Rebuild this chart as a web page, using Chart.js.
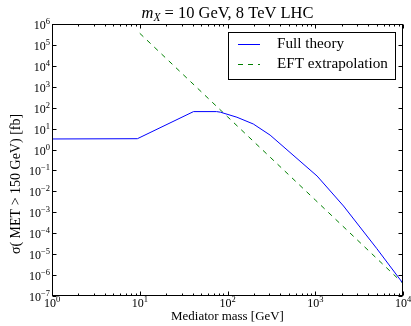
<!DOCTYPE html>
<html><head><meta charset="utf-8">
<script src="https://cdn.jsdelivr.net/npm/chart.js@4/dist/chart.umd.min.js"></script>
<style>html,body{margin:0;padding:0;background:#fff;}</style>
</head><body>
<canvas id="c" width="411" height="326"></canvas>
<script>
// ---- data ----
const massFull  = [1, 9.4, 41, 75, 83, 128, 197, 306, 1050, 2100, 5000, 10000];
const sigmaFull = [3.2, 3.3, 65, 65, 61, 35, 16.6, 4.9, 0.054, 0.002, 1.9e-5, 4.0e-7];
const massEft   = [10, 100, 1000, 10000];
const sigmaEft  = [3.6e5, 37, 3.9e-3, 4.0e-7];
const xTickVals = [1, 10, 100, 1000, 10000];
const xTickExps = ['0', '1', '2', '3', '4'];
const yTickVals = [1e-7, 1e-6, 1e-5, 1e-4, 1e-3, 1e-2, 1e-1, 1, 10, 100, 1e3, 1e4, 1e5, 1e6];
const yTickExps = ['\u22127', '\u22126', '\u22125', '\u22124', '\u22123', '\u22122', '\u22121', '0', '1', '2', '3', '4', '5', '6'];
const seriesNames = ['Full theory', 'EFT extrapolation'];
const titleParts = ['m', 'X', ' = 10 GeV, 8 TeV LHC'];
const xTitle = 'Mediator mass [GeV]';
const yTitle = '\u03c3( MET > 150 GeV) [fb]';

const FAM = '"Liberation Serif", "DejaVu Serif", serif';
const BLUE = '#0000ff', GREEN = '#008000';
const DASH = [5, 5];

function fit(ctx, text, target, style) {
  ctx.font = (style || '') + ' 20px ' + FAM;
  return 20 * target / ctx.measureText(text).width;
}

function drawPow(ctx, exp, x, y, align) {
  ctx.font = '12px ' + FAM;
  const wb = ctx.measureText('10').width;
  ctx.font = '8.5px ' + FAM;
  const we = ctx.measureText(exp).width;
  const tot = wb + we;
  let x0 = align === 'center' ? x - tot / 2 : x - tot;
  ctx.textAlign = 'left';
  ctx.textBaseline = 'alphabetic';
  ctx.font = '12px ' + FAM;
  ctx.fillText('10', x0, y);
  ctx.font = '8.5px ' + FAM;
  ctx.fillText(exp, x0 + wb, y - 5);
}

const decor = {
  id: 'decor',
  afterDraw(chart) {
    const ctx = chart.ctx;
    const a = chart.chartArea;
    const xs = chart.scales.x, ys = chart.scales.y;
    const L = Math.round(a.left) + 0.5, R = Math.round(a.right) - 0.5;
    const T = Math.round(a.top) + 0.5, B = Math.round(a.bottom) - 0.5;
    ctx.save();
    ctx.strokeStyle = '#000';
    ctx.fillStyle = '#000';
    ctx.lineWidth = 1;
    ctx.setLineDash([]);
    ctx.strokeRect(L, T, R - L, B - T);
    // x ticks
    ctx.beginPath();
    xTickVals.forEach((v, i) => {
      const px = Math.round(xs.getPixelForValue(v)) + 0.5;
      ctx.moveTo(px, B); ctx.lineTo(px, B - 4);
      ctx.moveTo(px, T); ctx.lineTo(px, T + 4);
      if (i < xTickVals.length - 1) {
        for (let m = 2; m <= 9; m++) {
          const p = Math.round(xs.getPixelForValue(v * m)) + 0.5;
          ctx.moveTo(p, B); ctx.lineTo(p, B - 2);
          ctx.moveTo(p, T); ctx.lineTo(p, T + 2);
        }
      }
    });
    yTickVals.forEach((v) => {
      const py = Math.round(ys.getPixelForValue(v)) + 0.5;
      ctx.moveTo(L, py); ctx.lineTo(L + 4, py);
      ctx.moveTo(R, py); ctx.lineTo(R - 4, py);
    });
    ctx.stroke();
    // tick labels
    xTickVals.forEach((v, i) => {
      drawPow(ctx, xTickExps[i], xs.getPixelForValue(v), a.bottom + 11, 'center');
    });
    yTickVals.forEach((v, i) => {
      drawPow(ctx, yTickExps[i], a.left - 2, ys.getPixelForValue(v) + 5, 'right');
    });
    // axis titles
    const cx = (a.left + a.right) / 2;
    const s = fit(ctx, xTitle, 113);
    ctx.font = s + 'px ' + FAM;
    ctx.textAlign = 'center';
    ctx.fillText(xTitle, cx, 320);
    ctx.save();
    ctx.translate(20, 184);
    ctx.rotate(-Math.PI / 2);
    ctx.font = '14px ' + FAM;
    ctx.textAlign = 'center';
    ctx.fillText(yTitle, 0, 0);
    ctx.restore();
    // title
    ctx.font = 'italic 20px ' + FAM;
    const wm = ctx.measureText(titleParts[0]).width;
    const wx = ctx.measureText(titleParts[1]).width * 0.7;
    ctx.font = '20px ' + FAM;
    const wr = ctx.measureText(titleParts[2]).width;
    const ts = 20 * 172 / (wm + wx + wr);
    const k = ts / 20;
    let tx = cx - 172 / 2;
    ctx.textAlign = 'left';
    ctx.font = 'italic ' + ts + 'px ' + FAM;
    ctx.fillText(titleParts[0], tx, 18);
    tx += wm * k;
    ctx.font = 'italic ' + (ts * 0.7) + 'px ' + FAM;
    ctx.fillText(titleParts[1], tx, 20.5);
    tx += wx * k;
    ctx.font = ts + 'px ' + FAM;
    ctx.fillText(titleParts[2], tx, 18);
    // legend
    const lx0 = 228.5, ly0 = 32.5, lx1 = 395.5, ly1 = 79.5;
    ctx.fillStyle = '#fff';
    ctx.fillRect(lx0, ly0, lx1 - lx0, ly1 - ly0);
    ctx.strokeStyle = '#000';
    ctx.strokeRect(lx0, ly0, lx1 - lx0, ly1 - ly0);
    const rows = [44.5, 64.5];
    const cols = [BLUE, GREEN];
    const ls = fit(ctx, seriesNames[1], 111);
    chart.data.datasets.forEach((ds, i) => {
      ctx.beginPath();
      ctx.strokeStyle = cols[i];
      ctx.setLineDash(i === 1 ? DASH : []);
      ctx.moveTo(238, rows[i]); ctx.lineTo(260, rows[i]);
      ctx.stroke();
      ctx.setLineDash([]);
      ctx.fillStyle = '#000';
      ctx.font = ls + 'px ' + FAM;
      ctx.textBaseline = 'middle';
      ctx.fillText(seriesNames[i], 277, rows[i]);
      ctx.textBaseline = 'alphabetic';
    });
    ctx.restore();
  }
};

new Chart(document.getElementById('c'), {
  type: 'line',
  data: {
    datasets: [
      {
        label: seriesNames[0],
        data: massFull.map((m, i) => ({ x: m, y: sigmaFull[i] })),
        borderColor: BLUE, borderWidth: 1, pointRadius: 0, tension: 0, fill: false
      },
      {
        label: seriesNames[1],
        data: massEft.map((m, i) => ({ x: m, y: sigmaEft[i] })),
        borderColor: GREEN, borderWidth: 1, borderDash: DASH, pointRadius: 0, tension: 0, fill: false
      }
    ]
  },
  options: {
    responsive: false,
    animation: false,
    devicePixelRatio: 1,
    layout: { padding: { left: 52, right: 8, top: 24, bottom: 30 } },
    plugins: { legend: { display: false }, tooltip: { enabled: false }, title: { display: false } },
    scales: {
      x: { type: 'logarithmic', min: 1, max: 10000, display: false },
      y: { type: 'logarithmic', min: 1e-7, max: 1e6, display: false }
    }
  },
  plugins: [decor]
});
</script>
</body></html>
